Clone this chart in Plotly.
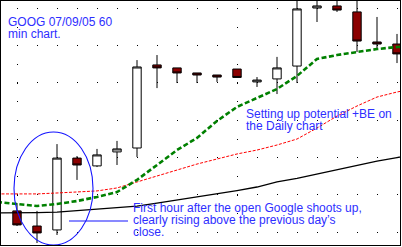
import plotly.graph_objects as go

# ---- data (hourly bars, GOOG 60 min) ----
bars = list(range(20))
opens = [291.13, 290.32, 290.11, 293.96, 293.54, 294.29, 294.50, 298.95, 298.79, 298.52,
         298.41, 298.73, 298.04, 298.20, 298.89, 302.00, 302.11, 301.79, 300.18, 300.07]
highs = [291.55, 291.13, 294.71, 294.07, 294.45, 294.88, 299.21, 299.48, 298.79, 298.52,
         298.41, 298.73, 298.30, 299.38, 302.70, 302.45, 302.45, 302.60, 301.52, 300.61]
lows = [290.32, 289.41, 289.84, 292.79, 293.48, 293.59, 294.02, 297.71, 297.98, 297.98,
        298.04, 298.28, 297.77, 297.39, 297.98, 301.25, 301.79, 299.64, 299.75, 299.05]
closes = [290.38, 289.95, 293.96, 293.59, 294.13, 294.45, 298.84, 298.79, 298.52, 298.41,
          298.30, 298.28, 298.14, 298.79, 301.95, 302.11, 301.89, 300.23, 300.07, 299.54]

ma_x = list(range(-1, 21))
ma_fast = [291.61, 291.50, 291.39, 291.50, 291.66, 291.88, 292.14, 292.79, 293.59, 294.39, 295.04,
           295.95, 296.70, 297.18, 297.66, 298.36, 299.27, 299.48, 299.64, 299.80, 299.91, 299.96]
ma_mid = [292.04, 292.04, 292.04, 292.09, 292.14, 292.20, 292.36, 292.68, 293.00, 293.32, 293.64,
          293.91, 294.18, 294.39, 294.66, 294.98, 295.57, 296.21, 296.75, 297.23, 297.50, 297.71]
ma_slow = [291.02, 291.02, 291.04, 291.07, 291.15, 291.23, 291.31, 291.39, 291.55, 291.71, 291.90,
           292.06, 292.22, 292.41, 292.68, 292.87, 293.11, 293.32, 293.56, 293.80, 293.99, 294.18]

grid_prices = [290, 292, 294, 296, 298, 300, 302]
session_marks = [0, 11]

W, H = 402, 247
ML, MR, MT, MB = 1, 2, 1, 2
PW, PH = W - ML - MR, H - MT - MB

TEXT_BLUE = "#2e2eff"
SHAPE_BLUE = "#1414ff"
FONT = "Arial, Liberation Sans, sans-serif"


def px_x(p):
    return (p - ML) / PW


def px_y_baseline(b):
    # anchor the middle of the text box so that the baseline falls at pixel b
    return (MT + PH - (b - 4.2)) / PH


fig = go.Figure()
fig.add_trace(go.Scatter(x=ma_x, y=ma_slow, mode="lines",
                         line=dict(color="#000000", width=1.3), hoverinfo="skip"))
fig.add_trace(go.Scatter(x=ma_x, y=ma_mid, mode="lines",
                         line=dict(color="#ff0000", width=1, dash="3px,1.5px"), hoverinfo="skip"))
fig.add_trace(go.Scatter(x=ma_x, y=ma_fast, mode="lines",
                         line=dict(color="#008000", width=2.6, dash="5px,2.5px"), hoverinfo="skip"))
fig.add_trace(go.Candlestick(
    x=bars, open=opens, high=highs, low=lows, close=closes,
    increasing=dict(fillcolor="#ffffff", line=dict(color="#000000", width=1)),
    decreasing=dict(fillcolor="#8b0000", line=dict(color="#000000", width=1)),
    whiskerwidth=0, hoverinfo="skip"))

# ellipse around the first hours and its leader line
fig.add_shape(type="circle", xref="x", yref="y", x0=-0.15, x1=3.8, y0=289.30, y1=295.36,
              line=dict(color=SHAPE_BLUE, width=1.1))
fig.add_shape(type="line", xref="x", yref="y", x0=2.6, x1=5.55, y0=290.59, y1=290.59,
              line=dict(color=SHAPE_BLUE, width=1.1))

texts = [
    ("GOOG 07/09/05 60", 8, 26),
    ("min chart.", 8, 38),
    ("Setting up potential +BE on", 246, 118),
    ("the Daily chart", 246, 130),
    ("First hour after the open Google shoots up,", 133, 212.5),
    ("clearly rising above the previous day\u2019s", 133, 224.5),
    ("close.", 133, 236.5),
]
for t, x, b in texts:
    fig.add_annotation(text=t, xref="paper", yref="paper", x=px_x(x), y=px_y_baseline(b),
                       xanchor="left", yanchor="middle", showarrow=False,
                       borderpad=0, borderwidth=0,
                       font=dict(family=FONT, size=12, color=TEXT_BLUE))

fig.update_layout(
    width=W, height=H, margin=dict(l=ML, r=MR, t=MT, b=MB, pad=0),
    paper_bgcolor="white", plot_bgcolor="white", showlegend=False,
    boxgap=0.4,
    xaxis=dict(range=[-0.8, -0.8 + PW / 20.0], tickmode="array", tickvals=session_marks,
               showgrid=True, gridcolor="#000000", gridwidth=1, griddash="0px,7px,1px,10.67px",
               showticklabels=False, ticks="", zeroline=False,
               showline=True, mirror=True, linecolor="#000000", linewidth=1,
               rangeslider=dict(visible=False), fixedrange=True),
    yaxis=dict(range=[290 - 13 / 18.667, 290 - 13 / 18.667 + PH / 18.667], tickmode="array",
               tickvals=grid_prices,
               showgrid=True, gridcolor="#000000", gridwidth=1, griddash="0px,16px,1px,3px",
               showticklabels=False, ticks="", zeroline=False,
               showline=True, mirror=True, linecolor="#000000", linewidth=1, fixedrange=True),
)

fig.write_html("out.html")
